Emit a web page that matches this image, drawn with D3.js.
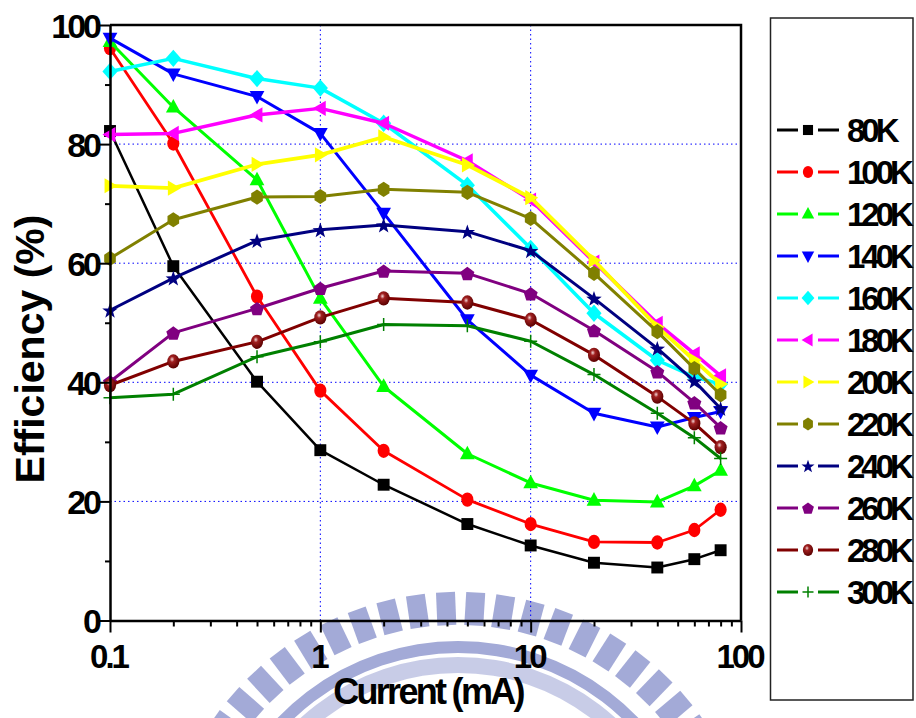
<!DOCTYPE html>
<html><head><meta charset="utf-8">
<script src="https://cdn.jsdelivr.net/npm/d3@7"></script>
<style>body{margin:0;background:#fff}svg{display:block}</style>
</head><body>
<script>
// ---------- data ----------
const currents = [0.1, 0.2, 0.5, 1, 2, 5, 10, 20, 40, 60, 80];
const seriesNames = ["80K","100K","120K","140K","160K","180K","200K","220K","240K","260K","280K","300K"];
const eff80  = [82.2, 59.5, 40.1, 28.6, 22.8, 16.2, 12.6, 9.7, 8.9, 10.3, 11.8];
const eff100 = [96.1, 80.1, 54.4, 38.6, 28.5, 20.3, 16.2, 13.2, 13.1, 15.2, 18.6];
const eff120 = [97.2, 86.2, 74.0, 54.1, 39.3, 28.0, 23.1, 20.2, 19.9, 22.6, 25.2];
const eff140 = [97.8, 91.8, 88.0, 81.8, 68.4, 50.5, 41.2, 34.8, 32.5, 34.1, 35.1];
const eff160 = [92.2, 94.4, 91.0, 89.4, 83.5, 73.1, 62.5, 51.6, 43.7, 40.9, 39.7];
const eff180 = [81.6, 81.8, 84.9, 86.0, 83.5, 77.2, 70.6, 60.2, 49.9, 44.8, 41.1];
const eff200 = [73.0, 72.6, 76.6, 78.2, 81.2, 76.5, 71.0, 60.5, 49.3, 43.7, 39.7];
const eff220 = [60.8, 67.3, 71.1, 71.2, 72.4, 71.9, 67.5, 58.3, 48.5, 42.3, 37.9];
const eff240 = [52.1, 57.5, 63.8, 65.6, 66.4, 65.3, 62.1, 54.1, 45.7, 40.2, 35.6];
const eff260 = [40.1, 48.3, 52.4, 55.8, 58.7, 58.3, 54.9, 48.7, 41.8, 36.6, 32.4];
const eff280 = [39.5, 43.5, 46.8, 50.9, 54.1, 53.4, 50.5, 44.6, 37.6, 33.1, 29.1];
const eff300 = [37.4, 38.0, 44.3, 46.8, 49.7, 49.5, 46.9, 41.3, 34.8, 30.7, 27.2];
const seriesValues = [eff80, eff100, eff120, eff140, eff160, eff180, eff200, eff220, eff240, eff260, eff280, eff300];
const xMajorTicks = [0.1, 1, 10, 100];
const xTickLabels = ["0.1", "1", "10", "100"];
const xMinorTicks = [0.2,0.3,0.4,0.5,0.6,0.7,0.8,0.9,2,3,4,5,6,7,8,9,20,30,40,50,60,70,80,90];
const yMajorTicks = [0, 20, 40, 60, 80, 100];
const yMinorTicks = [10, 30, 50, 70, 90];
const xTitle = "Current (mA)";
const yTitle = "Efficiency (%)";

// ---------- styles ----------
const colors  = ["#000000","#ff0000","#00ff00","#0000ff","#00ffff","#ff00ff","#ffff00","#808000","#000080","#800080","#800000","#008000"];
const markers = ["square","circle","triUp","triDown","diamond","triLeft","triRight","hexagon","star","pentagon","ball","plus"];
const widths  = [2.5, 2.8, 3, 3, 3.5, 3.5, 3.8, 3, 3, 3, 3, 3];

const W = 916, H = 718;
const pL = 110, pR = 741, pT = 25, pB = 620.5;
const FONT = "'Liberation Sans', Arial, sans-serif";

const svg = d3.select("body").append("svg").attr("width", W).attr("height", H)
  .style("font-family", FONT);
svg.append("rect").attr("width", W).attr("height", H).attr("fill", "#fff");

const defs = svg.append("defs");
const grad = defs.append("radialGradient").attr("id", "ballGrad")
  .attr("cx", "40%").attr("cy", "35%").attr("r", "65%");
grad.append("stop").attr("offset", "0%").attr("stop-color", "#f2d6d6");
grad.append("stop").attr("offset", "30%").attr("stop-color", "#a02020");
grad.append("stop").attr("offset", "100%").attr("stop-color", "#5a0000");

// ---------- watermark (faint logo) ----------
const wm = svg.append("g").attr("fill", "#a3aad7");
const wcx = 458, wcy = 891;
for (let a = -72; a <= 72; a += 5.8) {
  wm.append("rect").attr("x", -9.5).attr("y", -299).attr("width", 19).attr("height", 33)
    .attr("transform", `translate(${wcx},${wcy}) rotate(${a})`);
}
wm.append("path").attr("d", d3.arc()({innerRadius: 238, outerRadius: 250, startAngle: -1.3, endAngle: 1.3}))
  .attr("transform", `translate(${wcx},${wcy})`);
wm.append("path").attr("d", d3.arc()({innerRadius: 218, outerRadius: 234, startAngle: -1.3, endAngle: 1.3}))
  .attr("transform", `translate(${wcx},${wcy})`).attr("opacity", 0.6);

// ---------- scales ----------
const x = d3.scaleLog().domain([0.1, 100]).range([pL, pR]);
const y = d3.scaleLinear().domain([0, 100]).range([pB, pT]);

// ---------- grid ----------
const grid = svg.append("g").attr("stroke", "#0000ff").attr("stroke-width", 1).attr("stroke-dasharray", "1.5,3");
[1, 10].forEach(v => grid.append("line").attr("x1", x(v)).attr("x2", x(v)).attr("y1", pT).attr("y2", pB));
[20, 40, 60, 80].forEach(v => grid.append("line").attr("x1", pL).attr("x2", pR).attr("y1", y(v)).attr("y2", y(v)));

// ---------- marker shapes ----------
function markerPath(type, s) {
  const k = s / 12;
  const poly = (pts) => "M" + pts.map(p => (p[0]*k).toFixed(2) + "," + (p[1]*k).toFixed(2)).join("L") + "Z";
  switch (type) {
    case "square": return poly([[-5.5,-5.5],[5.5,-5.5],[5.5,5.5],[-5.5,5.5]]);
    case "triUp": return poly([[0,-7.5],[6.8,5],[-6.8,5]]);
    case "triDown": return poly([[0,7.5],[6.8,-5],[-6.8,-5]]);
    case "triLeft": return poly([[-7,0],[5,-7],[5,7]]);
    case "triRight": return poly([[7,0],[-5,-7],[-5,7]]);
    case "diamond": return poly([[0,-8],[7,0],[0,8],[-7,0]]);
    case "hexagon": {
      const p = []; for (let i = 0; i < 6; i++) { const t = Math.PI/3*i; p.push([6.2*Math.sin(t), -7*Math.cos(t)]); } return poly(p);
    }
    case "pentagon": {
      const p = []; for (let i = 0; i < 5; i++) { const t = 2*Math.PI/5*i; p.push([6.8*Math.sin(t), -6.8*Math.cos(t) + 0.8]); } return poly(p);
    }
    case "star": {
      const p = []; for (let i = 0; i < 10; i++) { const t = Math.PI/5*i; const r = i % 2 ? 3 : 7.5; p.push([r*Math.sin(t), -r*Math.cos(t) + 0.8]); } return poly(p);
    }
    case "plus": return `M${-6*k},0H${6*k}M0,${-6*k}V${6*k}`;
    default: return null;
  }
}
function drawMarker(g, type, color, cx, cy, s) {
  if (type === "circle" || type === "ball") {
    g.append("ellipse").attr("cx", cx).attr("cy", cy).attr("rx", 5.6*s/12).attr("ry", 6.6*s/12)
      .attr("fill", type === "ball" ? "url(#ballGrad)" : color);
  } else if (type === "plus") {
    g.append("path").attr("transform", `translate(${cx},${cy})`).attr("d", markerPath(type, s))
      .attr("stroke", color).attr("stroke-width", 1.5).attr("fill", "none");
  } else {
    g.append("path").attr("transform", `translate(${cx},${cy})`).attr("d", markerPath(type, s)).attr("fill", color);
  }
}

// ---------- series ----------
const line = d3.line().x(d => x(d[0])).y(d => y(d[1]));
const plot = svg.append("g");
seriesValues.forEach((vals, i) => {
  const g = plot.append("g");
  const pts = currents.map((c, j) => [c, vals[j]]);
  g.append("path").attr("d", line(pts)).attr("fill", "none").attr("stroke", colors[i])
    .attr("stroke-width", widths[i]).attr("stroke-linejoin", "round");
  pts.forEach(p => drawMarker(g, markers[i], colors[i], x(p[0]), y(p[1]), 13));
});

// ---------- axes ----------
const axStyle = (g, sw) => {
  g.selectAll("path.domain").attr("stroke", "#000").attr("stroke-width", sw);
  g.selectAll(".tick line").attr("stroke", "#000").attr("stroke-width", 2);
};
const xAxisMinor = svg.append("g").attr("transform", `translate(0,${pB})`)
  .call(d3.axisBottom(x).tickValues(xMinorTicks).tickSize(6).tickFormat(""));
xAxisMinor.select(".domain").remove(); axStyle(xAxisMinor, 0);
const xAxis = svg.append("g").attr("transform", `translate(0,${pB})`)
  .call(d3.axisBottom(x).tickValues(xMajorTicks).tickSize(12).tickSizeOuter(0)
    .tickFormat((d, i) => xTickLabels[i]));
axStyle(xAxis, 2.5);
xAxis.selectAll("text").attr("y", 47).attr("dy", null)
  .style("font-family", FONT).style("font-size", "33px").style("font-weight", "bold")
  .style("letter-spacing", "-3px").attr("fill", "#000").attr("dx", "-2");

const yAxisMinor = svg.append("g").attr("transform", `translate(${pL},0)`)
  .call(d3.axisLeft(y).tickValues(yMinorTicks).tickSize(5).tickFormat(""));
yAxisMinor.select(".domain").remove(); axStyle(yAxisMinor, 0);
const yAxis = svg.append("g").attr("transform", `translate(${pL},0)`)
  .call(d3.axisLeft(y).tickValues(yMajorTicks).tickSize(10).tickSizeOuter(0).tickFormat(d3.format("d")));
axStyle(yAxis, 2.5);
yAxis.selectAll("text").attr("x", -11).attr("dy", "0.36em")
  .style("font-family", FONT).style("font-size", "34px").style("font-weight", "bold")
  .style("letter-spacing", "-3px").attr("fill", "#000");

// frame top & right
svg.append("path").attr("d", `M${pL},${pT}H${pR}V${pB}`).attr("fill", "none")
  .attr("stroke", "#000").attr("stroke-width", 2.5);

// titles
svg.append("text").attr("x", 428).attr("y", 704).attr("text-anchor", "middle")
  .style("font-size", "36px").style("font-weight", "bold").style("letter-spacing", "-2.7px").text(xTitle);
svg.append("text").attr("transform", "translate(44,349) rotate(-90)").attr("text-anchor", "middle")
  .style("font-size", "41px").style("font-weight", "bold").text(yTitle);

// ---------- legend ----------
const lg = svg.append("g");
lg.append("rect").attr("x", 770.5).attr("y", 18).attr("width", 142.5).attr("height", 682)
  .attr("fill", "none").attr("stroke", "#222").attr("stroke-width", 1.5);
seriesNames.forEach((name, i) => {
  const cy = 130 + i * 42;
  lg.append("line").attr("x1", 777).attr("x2", 798).attr("y1", cy).attr("y2", cy).attr("stroke", colors[i]).attr("stroke-width", 3);
  lg.append("line").attr("x1", 818).attr("x2", 839).attr("y1", cy).attr("y2", cy).attr("stroke", colors[i]).attr("stroke-width", 3);
  drawMarker(lg, markers[i], colors[i], 808, cy, 11);
  lg.append("text").attr("x", 847).attr("y", cy + 12).style("font-size", "33px").style("font-weight", "bold")
    .style("letter-spacing", "-4px").text(name);
});
</script>
</body></html>
